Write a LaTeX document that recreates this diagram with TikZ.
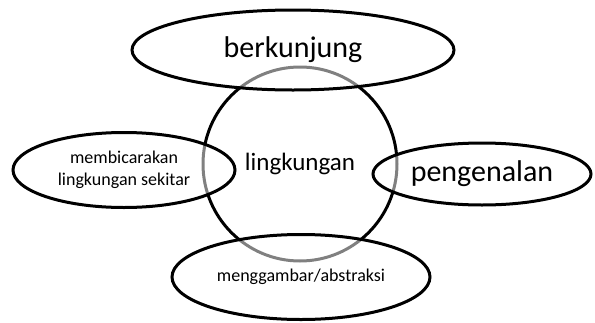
\documentclass[tikz,border=0pt]{standalone}
\usepackage{fontspec}
\setmainfont{Carlito}
\usepackage{tikz}
\usetikzlibrary{shapes.geometric}

\tikzset{
    hub/.style = {circle, draw, line width = 3pt, minimum size = 194pt, inner sep = 0pt},
    bubble/.style = {ellipse, draw, line width = 3pt, fill = white, fill opacity = 0.5,
                     text opacity = 1, inner sep = 0pt, align = center},
    big/.style = {font = \fontsize{30}{36}\selectfont},
    mid/.style = {font = \fontsize{25}{30}\selectfont},
    small/.style = {font = \fontsize{18}{22}\selectfont}
}

\begin{document}
\begin{tikzpicture}[x = 1pt, y = -1pt]
    \useasboundingbox (0, 0) rectangle (595, 322);

    % centre circle first, the ellipses lie over it
    \node[hub, mid] (lingkungan) at (300, 164) {lingkungan};

    \node[bubble, big, minimum width = 322pt, minimum height = 80pt] (berkunjung) at (293, 50) {berkunjung};
    \node[bubble, small, minimum width = 222pt, minimum height = 75pt] (membicarakan) at (124, 170) {membicarakan\\lingkungan sekitar};
    \node[bubble, big, minimum width = 218pt, minimum height = 62pt] (pengenalan) at (482, 174) {pengenalan};
    \node[bubble, small, minimum width = 258pt, minimum height = 85pt] (menggambar) at (301, 277) {menggambar/abstraksi};

\end{tikzpicture}
\end{document}
